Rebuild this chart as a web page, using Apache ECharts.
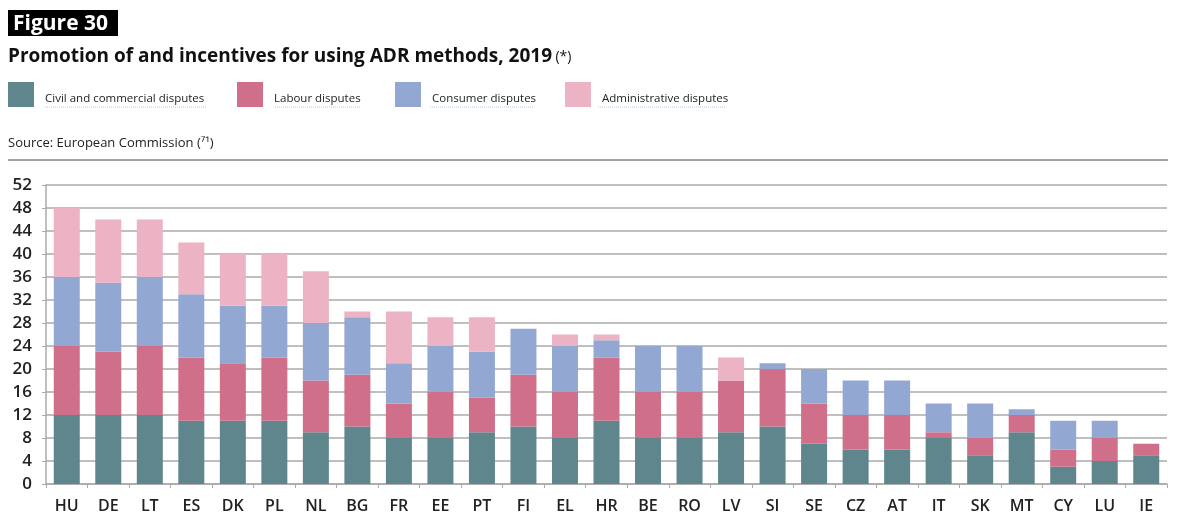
<!DOCTYPE html>
<html>
<head>
<meta charset="utf-8">
<script src="https://cdn.jsdelivr.net/npm/echarts@6/dist/echarts.min.js"></script>
<style>
html,body{margin:0;padding:0;background:#fff;}
#chart{width:1200px;height:528px;}
</style>
</head>
<body>
<div id="chart"></div>
<script>
const categories = ['HU','DE','LT','ES','DK','PL','NL','BG','FR','EE','PT','FI','EL','HR','BE','RO','LV','SI','SE','CZ','AT','IT','SK','MT','CY','LU','IE'];
const civil =          [12,12,12,11,11,11, 9,10, 8, 8, 9,10, 8,11, 8, 8, 9,10, 7, 6, 6, 8, 5, 9, 3, 4, 5];
const labour =         [12,11,12,11,10,11, 9, 9, 6, 8, 6, 9, 8,11, 8, 8, 9,10, 7, 6, 6, 1, 3, 3, 3, 4, 2];
const consumer =       [12,12,12,11,10, 9,10,10, 7, 8, 8, 8, 8, 3, 8, 8, 0, 1, 6, 6, 6, 5, 6, 1, 5, 3, 0];
const administrative = [12,11,10, 9, 9, 9, 9, 1, 9, 5, 6, 0, 2, 1, 0, 0, 4, 0, 0, 0, 0, 0, 0, 0, 0, 0, 0];
const seriesNames = ['Civil and commercial disputes','Labour disputes','Consumer disputes','Administrative disputes'];
const seriesColors = ['#5f868c','#cf6f89','#93a7d3','#ebb3c4'];
const yTicks = [0,4,8,12,16,20,24,28,32,36,40,44,48,52];

const chart = echarts.init(document.getElementById('chart'), null, {renderer:'canvas'});
const FONT = '"Open Sans", "Noto Sans", sans-serif';
const legendX = [8, 237, 395, 565];
const legends = seriesNames.map((n, i) => ({
  data: [n], left: legendX[i], top: 82, itemWidth: 26, itemHeight: 25, itemGap: 0, padding: 0,
  selectedMode: false, icon: 'rect',
  formatter: '{a|{name}}',
  textStyle: {fontFamily: FONT, fontSize: 11.5, color: '#222', padding: [0, 0, 0, 6],
    rich: {a: {fontFamily: FONT, fontSize: 11.5, color: '#222', padding: [9, 0, 0, 0]}}}
}));
const data = [civil, labour, consumer, administrative];
const series = data.map((arr, i) => ({
  name: seriesNames[i], type: 'bar', stack: 'total', barWidth: 26,
  itemStyle: {color: seriesColors[i]},
  data: arr.map(v => v === 0 ? null : v)
}));

chart.setOption({
  animation: false,
  color: seriesColors,
  graphic: [
    {type:'rect', shape:{x:8, y:10, width:110, height:26}, style:{fill:'#000'}},
    {type:'text', style:{x:13, y:24, text:'Figure 30', fill:'#fff', font:'bold 21px ' + FONT, textVerticalAlign:'middle'}},
    {type:'text', style:{x:8, y:57, textVerticalAlign:'middle',
      rich:{b:{font:'bold 19px ' + FONT, fill:'#111'}, n:{font:'14px ' + FONT, fill:'#111'}},
      text:'{b|Promotion of and incentives for using ADR methods, 2019} {n|(*)}'}},
    {type:'text', style:{x:8, y:143, textVerticalAlign:'middle', text:'Source: European Commission (⁷¹)', fill:'#222', font:'13px ' + FONT}},
    {type:'line', shape:{x1:8, y1:160, x2:1168, y2:160}, style:{stroke:'#444', lineWidth:1}},
    ...[[45,207],[275,361],[430,533],[598,726]].map(p => ({type:'line', shape:{x1:p[0], y1:107, x2:p[1], y2:107}, style:{stroke:'#b8c8e4', lineWidth:1, lineDash:[1,1]}}))
  ],
  legend: legends,
  grid: {left: 46, right: 33, top: 185, bottom: 44},
  xAxis: {
    type: 'category', data: categories,
    axisLine: {show: true, lineStyle: {color: '#aaa', width: 1.5}},
    axisTick: {show: true, length: 4, alignWithLabel: false, lineStyle: {color: '#aaa'}},
    axisLabel: {fontFamily: FONT, fontSize: 16, fontWeight: 600, color: '#222', margin: 14, interval: 0}
  },
  yAxis: {
    type: 'value', min: yTicks[0], max: yTicks[yTicks.length-1], interval: 4,
    axisLine: {show: true, lineStyle: {color: '#aaa', width: 1.5}},
    axisTick: {show: true, length: 4, lineStyle: {color: '#aaa'}},
    axisLabel: {fontFamily: FONT, fontSize: 17, fontWeight: 600, color: '#222', margin: 14},
    splitLine: {show: true, lineStyle: {color: '#aaa', width: 1.5}}
  },
  series: series
});
</script>
</body>
</html>
